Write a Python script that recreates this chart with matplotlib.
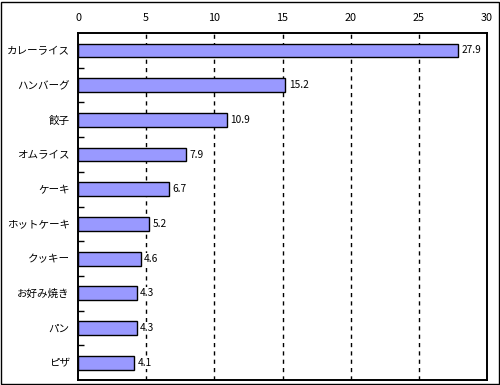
import matplotlib
matplotlib.use("Agg")
import matplotlib.pyplot as plt
from matplotlib.patches import Rectangle
from matplotlib.ticker import FixedLocator

plt.rcParams['font.family'] = ['Noto Sans CJK JP', 'DejaVu Sans']

categories = ["カレーライス", "ハンバーグ", "餃子", "オムライス", "ケーキ",
              "ホットケーキ", "クッキー", "お好み焼き", "パン", "ピザ"]
values = [27.9, 15.2, 10.9, 7.9, 6.7, 5.2, 4.6, 4.3, 4.3, 4.1]
xticks = [0, 5, 10, 15, 20, 25, 30]

fig = plt.figure(figsize=(5.0, 3.85), dpi=100)
ax = fig.add_axes([0.156, 0.013, 0.818, 0.901])

n = len(categories)
ypos = list(range(n))
ax.barh(ypos, values, height=0.4, color="#9999FF", edgecolor="black", linewidth=1, zorder=3)
ax.set_ylim(n - 0.5, -0.5)
ax.set_xlim(0, 30)

ax.set_yticks(ypos)
ax.set_yticklabels(categories, fontsize=7.6)
ax.tick_params(axis='y', which='major', length=0, pad=6)
ax.yaxis.set_minor_locator(FixedLocator([i + 0.5 for i in range(n - 1)]))
ax.tick_params(axis='y', which='minor', direction='in', length=4, width=1, color='black')

ax.set_xticks(xticks)
ax.xaxis.tick_top()
ax.tick_params(axis='x', length=0, labelsize=7.8, pad=7)
for x in xticks[1:-1]:
    ax.axvline(x, color='black', linestyle=(0, (3, 3)), linewidth=1, zorder=1)

for y, v in zip(ypos, values):
    ax.annotate(f"{v}", (v, y), xytext=(2.5, 0), textcoords='offset points',
                va='center', ha='left', fontsize=7.3, zorder=4,
                bbox=dict(boxstyle='square,pad=0.1', facecolor='white', edgecolor='none'))

for s in ax.spines.values():
    s.set_linewidth(1.4)
    s.set_color('black')

fig.patches.append(Rectangle((0.001, 0.002), 0.996, 0.994, transform=fig.transFigure,
                             fill=False, edgecolor='black', linewidth=1.0))

fig.savefig("out.png", dpi=100)
